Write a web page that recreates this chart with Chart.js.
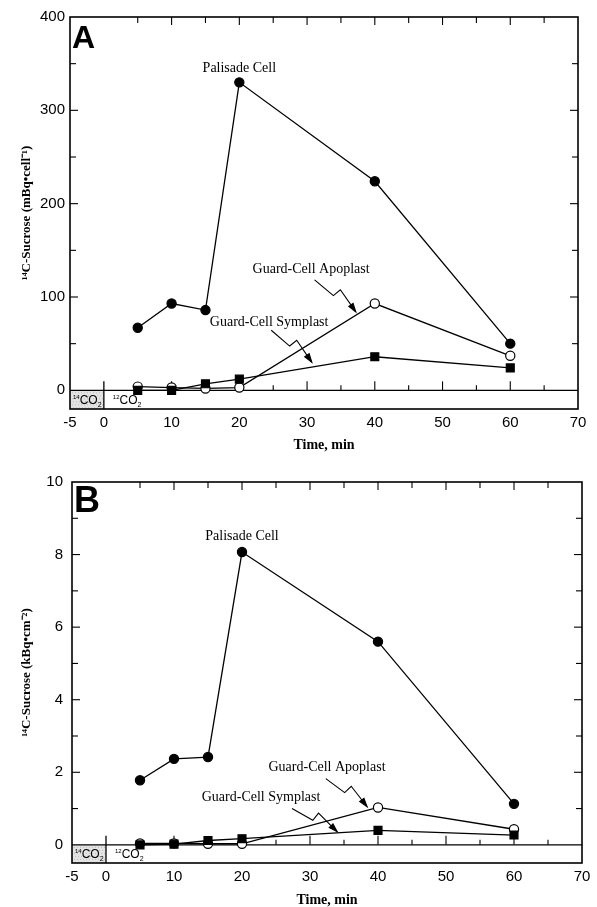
<!DOCTYPE html>
<html><head><meta charset="utf-8">
<script src="https://cdn.jsdelivr.net/npm/chart.js@4/dist/chart.umd.min.js"></script>
<style>
html,body{margin:0;padding:0;background:#fff;overflow:hidden;width:597px;height:907px;}
.wrap{position:absolute;left:0;}
</style></head><body>
<div class="wrap" style="top:0"><canvas id="cA" width="597" height="460"></canvas></div>
<div class="wrap" style="top:450px"><canvas id="cB" width="597" height="470"></canvas></div>
<script>
// ---- data ----
const times = [5, 10, 15, 20, 40, 60];
const xTickLabels = [-5, 0, 10, 20, 30, 40, 50, 60, 70];
const seriesNames = ['Palisade Cell', 'Guard-Cell Apoplast', 'Guard-Cell Symplast'];
const palisadeA = [67, 93, 86, 330, 224, 50];
const apoplastA = [4, 3, 2, 3, 93, 37];
const symplastA = [0, 0, 7, 12, 36, 24];
const yTicksA = [0, 100, 200, 300, 400];
const palisadeB = [1.78, 2.37, 2.42, 8.07, 5.6, 1.13];
const apoplastB = [0.04, 0.04, 0.03, 0.03, 1.03, 0.43];
const symplastB = [0, 0.02, 0.12, 0.17, 0.4, 0.27];
const yTicksB = [0, 2, 4, 6, 8, 10];

function pts(vals) { return times.map((t, i) => ({x: t, y: vals[i]})); }

function drawZig(ctx, x1, y1, x2, y2) {
  const dx = x2 - x1, dy = y2 - y1, L = Math.hypot(dx, dy);
  const ux = dx / L, uy = dy / L;
  const px = uy, py = -ux; // perpendicular (up-right)
  const P = (t, o) => [x1 + ux * L * t + px * o, y1 + uy * L * t + py * o];
  const s0 = P(0, -2), a = P(0.47, -2), b = P(0.5, 7);
  ctx.beginPath();
  ctx.moveTo(s0[0], s0[1]); ctx.lineTo(a[0], a[1]); ctx.lineTo(b[0], b[1]);
  ctx.lineTo(x2, y2); ctx.stroke();
  const ang = Math.atan2(y2 - b[1], x2 - b[0]), h = 9, s = 0.3;
  ctx.beginPath();
  ctx.moveTo(x2 - h * Math.cos(ang - s), y2 - h * Math.sin(ang - s));
  ctx.lineTo(x2, y2);
  ctx.lineTo(x2 - h * Math.cos(ang + s), y2 - h * Math.sin(ang + s));
  ctx.closePath();
  ctx.fill(); ctx.stroke();
}

function drawCO2(ctx, xl, ym, iso) {
  ctx.fillStyle = '#000';
  ctx.textBaseline = 'alphabetic';
  ctx.textAlign = 'left';
  ctx.font = '6px "Liberation Sans"';
  ctx.fillText(iso, xl, ym - 1);
  let w = ctx.measureText(iso).width;
  ctx.font = '12px "Liberation Sans"';
  ctx.fillText('CO', xl + w, ym + 4);
  const w2 = ctx.measureText('CO').width;
  ctx.font = '7px "Liberation Sans"';
  ctx.fillText('2', xl + w + w2, ym + 7);
}

const decor = {
  id: 'decor',
  beforeDatasetsDraw(chart, args, o) {
    const {ctx, chartArea: a, scales: {x, y}} = chart;
    const y0 = y.getPixelForValue(0);
    const xm5 = x.getPixelForValue(-5), x0 = x.getPixelForValue(0);
    ctx.save();
    ctx.fillStyle = '#e4e4e4';
    ctx.fillRect(xm5, y0, x0 - xm5, a.bottom - y0);
    ctx.fillStyle = '#bbb';
    for (let yy = y0 + 2; yy < a.bottom; yy += 3)
      for (let xx = xm5 + 2 + ((yy | 0) % 2); xx < x0; xx += 3) ctx.fillRect(xx, yy, 1, 1);
    ctx.strokeStyle = '#000';
    ctx.lineWidth = 1.3;
    ctx.beginPath(); ctx.moveTo(a.left, y0); ctx.lineTo(a.right, y0); ctx.stroke();
    ctx.beginPath(); ctx.moveTo(x0, a.bottom); ctx.lineTo(x0, y0 - 9); ctx.stroke();
    ctx.lineWidth = 1.1;
    for (let v = 5; v <= 65; v += 5) {
      const px = x.getPixelForValue(v), len = v % 10 === 0 ? 9 : 5;
      ctx.beginPath(); ctx.moveTo(px, y0); ctx.lineTo(px, y0 - len); ctx.stroke();
      ctx.beginPath(); ctx.moveTo(px, a.top); ctx.lineTo(px, a.top + (v % 10 === 0 ? 8 : 6)); ctx.stroke();
    }
    for (let v = o.yStep; v < o.yMax; v += o.yStep) {
      const py = y.getPixelForValue(v);
      const major = Math.abs((v / o.yMajor) - Math.round(v / o.yMajor)) < 1e-6;
      const len = major ? 8 : 6;
      ctx.beginPath(); ctx.moveTo(a.left, py); ctx.lineTo(a.left + len, py); ctx.stroke();
      ctx.beginPath(); ctx.moveTo(a.right, py); ctx.lineTo(a.right - len, py); ctx.stroke();
    }
    ctx.lineWidth = 1.6;
    ctx.strokeRect(a.left, a.top, a.right - a.left, a.bottom - a.top);
    const ym = (y0 + a.bottom) / 2;
    drawCO2(ctx, xm5 + 3, ym, '14');
    drawCO2(ctx, x0 + 9, ym, '12');
    ctx.restore();
  },
  afterDatasetsDraw(chart, args, o) {
    const {ctx, chartArea: a, scales: {x, y}} = chart;
    ctx.save();
    ctx.fillStyle = '#000';
    ctx.font = 'bold ' + o.letterSize + 'px "Liberation Sans"';
    ctx.textAlign = 'left'; ctx.textBaseline = 'alphabetic';
    ctx.fillText(o.letter, a.left + 2, a.top + o.letterBase);
    ctx.font = '14px "Liberation Serif"';
    ctx.textAlign = 'center'; ctx.textBaseline = 'middle';
    o.labels.forEach(l => ctx.fillText(l.text, x.getPixelForValue(l.x), y.getPixelForValue(l.y)));
    ctx.strokeStyle = '#000'; ctx.lineWidth = 1.1;
    o.arrows.forEach(r => drawZig(ctx, x.getPixelForValue(r[0]), y.getPixelForValue(r[1]),
                                       x.getPixelForValue(r[2]), y.getPixelForValue(r[3])));
    ctx.restore();
  }
};

function makeChart(id, pal, apo, sym, yTicks, p) {
  const ds = (label, vals, style) => Object.assign({
    label, data: pts(vals), borderColor: '#000', borderWidth: 1.3, tension: 0,
    pointBorderColor: '#000', pointBorderWidth: 1.2, pointHoverRadius: 5
  }, style);
  return new Chart(document.getElementById(id), {
    type: 'line',
    data: {datasets: [
      ds(seriesNames[2], sym, {pointStyle: 'rect', pointRadius: 5.6, pointBackgroundColor: '#000'}),
      ds(seriesNames[1], apo, {pointStyle: 'circle', pointRadius: 4.6, pointBackgroundColor: '#fff'}),
      ds(seriesNames[0], pal, {pointStyle: 'circle', pointRadius: 4.6, pointBackgroundColor: '#000'})
    ]},
    options: {
      responsive: false, animation: false,
      layout: {padding: {top: p.top, right: p.right, left: 0, bottom: 0}},
      plugins: {legend: {display: false}, tooltip: {enabled: false}, decor: p.decor},
      scales: {
        x: {
          type: 'linear', min: -5, max: 70,
          afterBuildTicks: s => { s.ticks = xTickLabels.map(v => ({value: v})); },
          afterFit: s => { s.height = p.xH; },
          grid: {display: false, drawTicks: false}, border: {display: false},
          ticks: {padding: 5, color: '#000', font: {family: '"Liberation Sans"', size: 15}},
          title: {display: true, text: 'Time, min', color: '#000', padding: {top: 0, bottom: p.xTitlePad},
                  font: {family: '"Liberation Serif"', size: 14, weight: 'bold'}}
        },
        y: {
          type: 'linear', min: p.yMin, max: p.yMax,
          afterBuildTicks: s => { s.ticks = yTicks.map(v => ({value: v})); },
          afterFit: s => { s.width = p.yW; },
          grid: {display: false, drawTicks: false}, border: {display: false},
          ticks: {padding: p.yPad, color: '#000', font: {family: '"Liberation Sans"', size: 15}},
          title: {display: true, text: p.yTitle, color: '#000', padding: {top: 19, bottom: 0},
                  font: {family: '"Liberation Serif"', size: 13, weight: 'bold'}}
        }
      }
    },
    plugins: [decor]
  });
}

makeChart('cA', palisadeA, apoplastA, symplastA, yTicksA, {
  top: 17, right: 19, xH: 51, xTitlePad: 6.6, yW: 70, yPad: 5, yMin: -20, yMax: 400,
  yTitle: '¹⁴C-Sucrose (mBq•cell⁻¹)',
  decor: {
    yStep: 50, yMajor: 100, yMax: 400, letter: 'A', letterSize: 32, letterBase: 31,
    labels: [
      {text: 'Palisade Cell', x: 20, y: 345},
      {text: 'Guard-Cell Apoplast', x: 30.6, y: 130},
      {text: 'Guard-Cell Symplast', x: 24.4, y: 73}
    ],
    arrows: [[31.3, 120, 37.2, 84], [24.9, 66, 30.7, 30]]
  }
});

makeChart('cB', palisadeB, apoplastB, symplastB, yTicksB, {
  top: 32, right: 15, xH: 57, xTitlePad: 11.6, yW: 72, yPad: 9, yMin: -0.5, yMax: 10,
  yTitle: '¹⁴C-Sucrose (kBq•cm⁻²)',
  decor: {
    yStep: 1, yMajor: 2, yMax: 10, letter: 'B', letterSize: 36, letterBase: 30,
    labels: [
      {text: 'Palisade Cell', x: 20, y: 8.5},
      {text: 'Guard-Cell Apoplast', x: 32.5, y: 2.15},
      {text: 'Guard-Cell Symplast', x: 22.8, y: 1.3}
    ],
    arrows: [[32.5, 1.87, 38.4, 1.05], [27.5, 1.05, 34, 0.36]]
  }
});
</script>
</body></html>
